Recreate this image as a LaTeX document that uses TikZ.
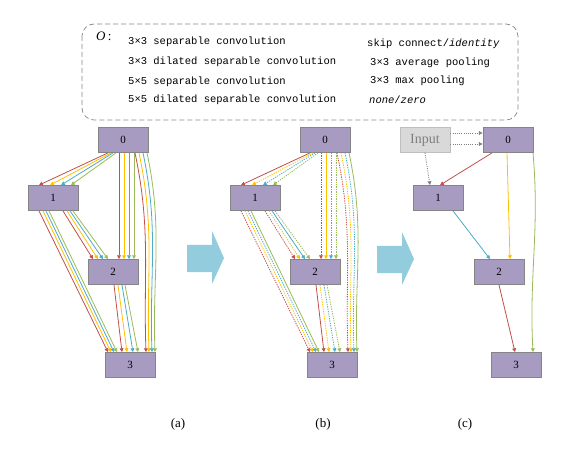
\documentclass[tikz,border=0pt]{standalone}
\usepackage{fontspec}
\setmainfont{Liberation Serif}
\newfontfamily\legfont{Liberation Mono}
\usepackage{tikz}
\usetikzlibrary{arrows.meta, calc}
\definecolor{opRed}{HTML}{C0504D}
\definecolor{opYellow}{HTML}{FFC000}
\definecolor{opBlue}{HTML}{4BACC6}
\definecolor{opGreen}{HTML}{9BBB59}
\definecolor{cellFill}{HTML}{A89BC2}
\definecolor{cellLine}{HTML}{858585}
\definecolor{flowBlue}{HTML}{93CDDD}
\definecolor{inFill}{HTML}{D9D9D9}
\definecolor{inLine}{HTML}{BFBFBF}
\definecolor{inText}{HTML}{808080}

\tikzset{
  cell/.style={draw=cellLine, fill=cellFill, line width=0.8pt, minimum width=50pt,
    minimum height=25pt, inner sep=0pt, font=\fontsize{11}{13}\selectfont},
  edge/.style={line width=0.8pt, -{Triangle[length=3.8pt, width=3.8pt]}},
  a-solid/.style={}, a-dot/.style={},
  b-solid/.style={}, b-dot/.style={dash pattern=on 1.3pt off 1.1pt},
  legtext/.style={anchor=west, inner sep=0pt, font=\legfont\fontsize{10.5}{12}\selectfont},
}

\begin{document}
\begin{tikzpicture}[x=1pt, y=-1pt]
  \useasboundingbox (0,0) rectangle (573,449);

  % Leyenda de operaciones
  \draw[cellLine, dash pattern=on 5pt off 3pt, rounded corners=12pt, line width=0.7pt]
    (82,24) rectangle (518,120);
  \node[anchor=west, inner sep=0pt, font=\fontsize{13}{15}\selectfont] (oset) at (96,36) {\textit{O}\,:};
  \foreach \txt/\x/\y in {%
    {3×3 separable convolution}/128/42,
    {3×3 dilated separable convolution}/128/62,
    {5×5 separable convolution}/128/82,
    {5×5 dilated separable convolution}/128/100,
    {skip connect/\textit{identity}}/367/44,
    {3×3 average pooling}/370/63,
    {3×3 max pooling}/370/81,
    {\textit{none}/\textit{zero}}/369/100%
  } {
    \node[legtext] at (\x,\y) {\txt};
  }

  % Celdas (a) y (b)
  \foreach \p/\dx in {a/0, b/202} {
    \node[cell] (\p0) at (123+\dx,140) {0};
    \node[cell] (\p1) at (53+\dx,198) {1};
    \node[cell] (\p2) at (113+\dx,272) {2};
    \node[cell] (\p3) at (130+\dx,365) {3};
    % aristas rectas: origen/destino/color/desplazamientos/estilo en (b)
    \foreach \f/\t/\col/\s/\e/\st in {%
      0/1/opRed/-15/-14/solid, 0/1/opYellow/-12/-3/dot, 0/1/opBlue/-10/8/dot, 0/1/opGreen/-7/18/dot,
      0/2/opRed/-4/6/dot, 0/2/opYellow/1/11/solid, 0/2/opBlue/6/16/dot, 0/2/opGreen/11/21/dot,
      1/2/opRed/10/-20/dot, 1/2/opYellow/14/-15/dot, 1/2/opBlue/17/-10/solid, 1/2/opGreen/20/-5/dot,
      1/3/opRed/-14/-22/dot, 1/3/opYellow/-10/-19/dot, 1/3/opBlue/-7/-16/dot, 1/3/opGreen/-4/-13/solid,
      2/3/opRed/1/-8/solid, 2/3/opYellow/5/-3/dot, 2/3/opBlue/9/3/dot, 2/3/opGreen/12/8/dot%
    } {
      \draw[edge, \col, \p-\st] ($(\p\f.south)+(\s,0)$) -- ($(\p\t.north)+(\e,0)$);
    }
    % aristas curvas 0 -> 3
    \foreach \col/\s/\e/\st in {opRed/12/16/dot, opYellow/16/19/dot, opBlue/20/22/dot, opGreen/24/25/solid} {
      \draw[edge, \col, \p-\st] ($(\p0.south)+(\s,0)$) to[out=-78, in=92] ($(\p3.north)+(\e,0)$);
    }
  }

  % Celda final (c)
  \node[cell, draw=inLine, fill=inFill, text=inText, font=\fontsize{14}{16}\selectfont] (cin) at (425,140) {Input};
  \node[cell] (c0) at (508,140) {0};
  \node[cell] (c1) at (438,198) {1};
  \node[cell] (c2) at (499,272) {2};
  \node[cell] (c3) at (516,365) {3};
  \draw[edge, inText, dash pattern=on 1pt off 1.2pt] ($(cin.east)+(0,-7)$) -- ($(c0.west)+(0,-7)$);
  \draw[edge, inText, dash pattern=on 1pt off 1.2pt] ($(cin.east)+(0,4)$) -- ($(c0.west)+(0,4)$);
  \draw[edge, inText, dash pattern=on 1pt off 1.2pt] (cin.south) -- ($(c1.north)+(-8,0)$);
  \draw[edge, opRed] ($(c0.south)+(-16,0)$) -- ($(c1.north)+(2,0)$);
  \draw[edge, opYellow] ($(c0.south)+(-1,0)$) -- ($(c2.north)+(11,0)$);
  \draw[edge, opBlue] ($(c1.south)+(15,0)$) -- ($(c2.north)+(-9,0)$);
  \draw[edge, opRed] (c2.south) -- ($(c3.north)+(-1,0)$);
  \draw[edge, opGreen] ($(c0.south)+(25,0)$) to[out=-85, in=93] ($(c3.north)+(17,0)$);

  % Flechas de paso
  \foreach \dx/\dy in {0/0, 190/1} {
    \fill[flowBlue] (187+\dx,245+\dy) -- (212+\dx,245+\dy) -- (212+\dx,231+\dy) -- (224+\dx,258+\dy)
      -- (212+\dx,284+\dy) -- (212+\dx,272+\dy) -- (187+\dx,272+\dy) -- cycle;
  }

  % Rotulos
  \foreach \lab/\x in {a/178, b/323, c/465} {
    \node[font=\fontsize{13}{15}\selectfont] (lab\lab) at (\x,424) {(\lab)};
  }
\end{tikzpicture}
\end{document}
